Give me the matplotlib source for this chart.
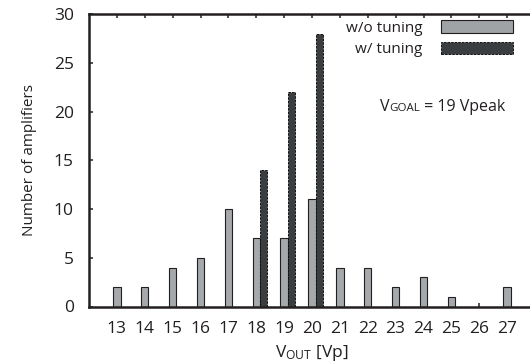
import numpy as np
import matplotlib
matplotlib.use("Agg")
import matplotlib.pyplot as plt
from matplotlib.offsetbox import TextArea, HPacker, AnnotationBbox
from matplotlib.patches import Patch

categories = [13, 14, 15, 16, 17, 18, 19, 20, 21, 22, 23, 24, 25, 26, 27]
wo_tuning = [2, 2, 4, 5, 10, 7, 7, 11, 4, 4, 2, 3, 1, 0, 2]
w_tuning = [0, 0, 0, 0, 0, 14, 22, 28, 0, 0, 0, 0, 0, 0, 0]
yticks = [0, 5, 10, 15, 20, 25, 30]

FONT = "Open Sans"
plt.rcParams['font.family'] = [FONT, 'DejaVu Sans']
plt.rcParams['mathtext.fontset'] = 'custom'
plt.rcParams['mathtext.rm'] = FONT
plt.rcParams['mathtext.it'] = FONT

INK = "#231f20"
LIGHT = "#a6a9ab"
DARK = "#3b3e40"

fig = plt.figure(figsize=(5.30, 3.64), dpi=100)
ax = fig.add_axes([89/530, 57.5/364, 446/530, 292.5/364])

x = np.array(categories, dtype=float)
wo = np.array(wo_tuning, dtype=float)
wt = np.array(w_tuning, dtype=float)
bw = 0.265

m1 = wo > 0
ax.bar(x[m1], wo[m1], width=bw, color=LIGHT, edgecolor=INK, linewidth=0.8, zorder=3)
m2 = wt > 0
ax.bar(x[m2] + bw, wt[m2], width=bw, color=DARK, edgecolor="#111111",
       linewidth=0.7, linestyle=(0, (2.5, 1.2)), zorder=3)

ax.set_xlim(12, 28)
ax.set_ylim(0, 30)
ax.set_xticks(categories)
ax.set_xticklabels([str(c) for c in categories])
ax.set_yticks(yticks)

for s in ["left", "bottom", "top"]:
    ax.spines[s].set_linewidth(1.8)
    ax.spines[s].set_color(INK)
    ax.spines[s].set_zorder(4)
ax.spines["right"].set_visible(False)

ax.tick_params(axis='x', which='both', direction='in', length=3, width=1.1,
               color=INK, top=True, bottom=True, labelsize=12.5, pad=10.5,
               labelcolor=INK)
ax.tick_params(axis='y', which='both', direction='in', length=3, width=1.1,
               color=INK, left=True, right=False, labelsize=12.5, pad=11,
               labelcolor=INK)

ax.set_ylabel("Number of amplifiers", fontsize=11, color=INK, labelpad=12)
ax.set_xlabel(r"V$_{\mathregular{OUT}}$ [Vp]", fontsize=12.5, color=INK, labelpad=4)

handles = [Patch(facecolor="#a0a3a5", edgecolor=INK, linewidth=0.8),
           Patch(facecolor=DARK, edgecolor="#111111", linewidth=0.7, linestyle=(0, (2.5, 1.2)))]
leg = ax.legend(handles, ["w/o tuning", "w/ tuning"], loc="upper right",
                bbox_to_anchor=((513 - 89) / 446, (306.5 - 20) / 292.5),
                bbox_transform=ax.transAxes,
                frameon=False, fontsize=11, markerfirst=False,
                handlelength=4.7, handleheight=0.9, handletextpad=1.2,
                labelspacing=0.4, borderaxespad=0, borderpad=0)
for t in leg.get_texts():
    t.set_color(INK)

size = 11.5
parts = [TextArea("V", textprops=dict(fontsize=size, color=INK)),
         TextArea("GOAL", textprops=dict(fontsize=size*0.72, color=INK)),
         TextArea(" = 19 Vpeak", textprops=dict(fontsize=size, color=INK))]
box = HPacker(children=parts, align="baseline", pad=0, sep=0)
ab = AnnotationBbox(box, ((380-89)/446, (306.5-99)/292.5), xycoords='axes fraction',
                    box_alignment=(0, 1), frameon=False, pad=0)
ax.add_artist(ab)

fig.savefig("out.png", dpi=100)
